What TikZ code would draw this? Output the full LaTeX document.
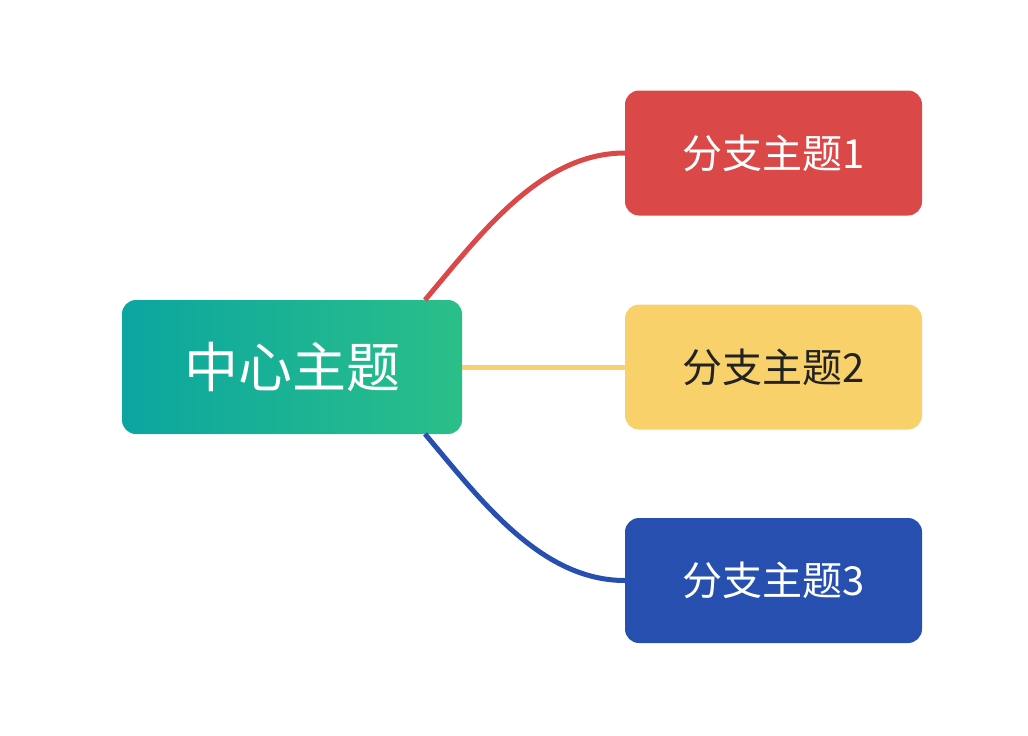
\documentclass[tikz,border=0pt]{standalone}
\usepackage{fontspec}
\newfontfamily\cjk{Noto Sans CJK SC}
\definecolor{cRed}{HTML}{DB4848}
\definecolor{cYel}{HTML}{F9D16B}
\definecolor{cBlue}{HTML}{264FB0}
\definecolor{cT1}{HTML}{0BA6A0}
\definecolor{cT2}{HTML}{2BBF88}
\definecolor{cTxt}{HTML}{222222}
\begin{document}
\begin{tikzpicture}[x=1pt,y=-1pt,
  box/.style={rounded corners=14pt,minimum width=297pt,minimum height=125pt,inner sep=0pt,font=\cjk\fontsize{40}{48}\selectfont},
  link/.style={line width=5pt}]
\useasboundingbox (0,0) rectangle (1028,736);
\node[box,left color=cT1,right color=cT2,draw=none,minimum width=340pt,minimum height=134pt,text=white,font=\cjk\fontsize{54}{64}\selectfont] (c) at (292,367) {中心主题};
\node[box,fill=cRed,text=white] (b1) at (773.5,153) {分支主题1};
\node[box,fill=cYel,text=cTxt] (b2) at (773.5,367) {分支主题2};
\node[box,fill=cBlue,text=white] (b3) at (773.5,580.5) {分支主题3};
\coordinate (s1) at (425,300);
\coordinate (s3) at (425,434);
\begin{scope}[on background layer/.style={}]
\draw[link,cRed] (s1) .. controls (480,235) and (540,153) .. (b1.west);
\draw[link,cYel] (c.east) -- (b2.west);
\draw[link,cBlue] (s3) .. controls (480,499) and (540,580.5) .. (b3.west);
\end{scope}
\end{tikzpicture}
\end{document}
